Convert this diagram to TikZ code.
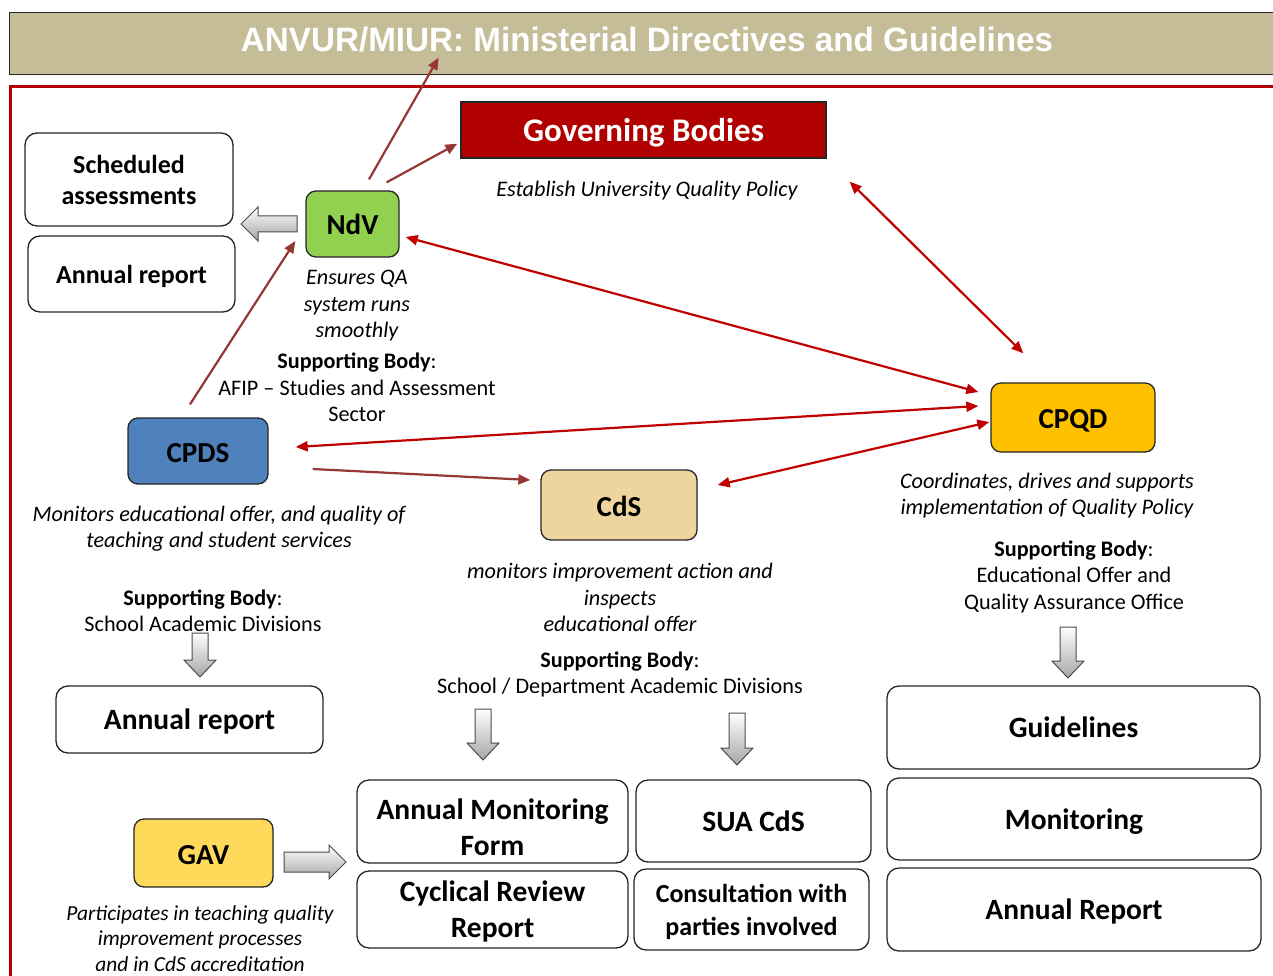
\documentclass[tikz,border=0pt]{standalone}
\usepackage{fontspec}
\setmainfont{Carlito}
\newfontfamily\titlefont{Liberation Sans}
\usetikzlibrary{arrows.meta,calc}
\definecolor{titlebg}{HTML}{C4BD97}
\definecolor{frame}{HTML}{B00000}
\definecolor{govred}{HTML}{B00000}
\definecolor{brownarr}{HTML}{953735}
\definecolor{redarr}{HTML}{C00000}
\definecolor{ndvgreen}{HTML}{92D050}
\definecolor{cpdsblue}{HTML}{4F81BD}
\definecolor{cdstan}{HTML}{EDD59D}
\definecolor{cpqdorange}{HTML}{FFC000}
\definecolor{gavyellow}{HTML}{FFD95A}
\newcommand{\DownArr}[3]{\draw[blockarrow] (#1-8,#2) -- (#1+8,#2) -- (#1+8,#3-17) -- (#1+16,#3-17) -- (#1,#3) -- (#1-16,#3-17) -- (#1-8,#3-17) -- cycle;}
\begin{document}
\begin{tikzpicture}[x=1pt,y=-1pt,
  outbox/.style={draw=black!85, line width=1.3pt, rounded corners=12pt, fill=white, align=center, inner sep=0pt,
    text depth=0pt, font=\bfseries\fontsize{26}{31}\selectfont},
  colbox/.style={draw=black!85, line width=1.3pt, rounded corners=10pt, align=center, inner sep=0pt,
    text height=22pt, text depth=0pt, font=\bfseries\fontsize{29}{32}\selectfont},
  lbl/.style={align=center, inner sep=0pt, font=\itshape\fontsize{22.2}{26.5}\selectfont},
  suplbl/.style={align=center, inner sep=0pt, font=\fontsize{22.2}{26.5}\selectfont},
  bigfont/.style={font=\bfseries\fontsize{29.5}{36}\selectfont},
  bigbox/.style={outbox, bigfont},
  brarrow/.style={draw=brownarr, line width=2.2pt, -{Triangle[length=12pt,width=10pt]}},
  redarrow/.style={draw=redarr, line width=2.2pt, {Triangle[length=12pt,width=10pt]}-{Triangle[length=12pt,width=10pt]}},
  blockarrow/.style={draw=black!70, line width=1pt, top color=white, bottom color=black!35}
]
\useasboundingbox (0,0) rectangle (1273,976);
\clip (0,0) rectangle (1273,976);
\fill[white] (0,0) rectangle (1273,976);

% title bar
\node[draw=black!85, line width=1.3pt, fill=titlebg, minimum width=1271pt, minimum height=62pt, inner sep=0pt, anchor=north west] (title) at (9,12) {};
\node[text=white, inner sep=0pt, font=\titlefont\bfseries\fontsize{33}{36}\selectfont] (titletext) at (647,40) {\resizebox{812pt}{24.5pt}{ANVUR/MIUR: Ministerial Directives and Guidelines}};

% red frame
\draw[frame, line width=3pt] (10,1000) -- (10,87) -- (1300,87);

% boxes
\node[outbox, minimum width=208pt, minimum height=93pt] (sched) at (129,179.5) {Scheduled\\assessments};
\node[outbox, minimum width=207pt, minimum height=76pt] (ar1) at (131.5,274) {Annual report};
\node[draw=black!85, line width=1.3pt, fill=govred, text=white, minimum width=365pt, minimum height=56pt, inner sep=0pt,
  text depth=0pt, font=\bfseries\fontsize{33}{36}\selectfont] (gov) at (643.5,130) {Governing Bodies};
\node[colbox, fill=ndvgreen, minimum width=93pt, minimum height=66pt] (ndv) at (352.5,224) {NdV};
\node[colbox, fill=cpdsblue, minimum width=140pt, minimum height=66pt] (cpds) at (198,451) {CPDS};
\node[colbox, fill=cdstan, minimum width=156pt, minimum height=70pt] (cds) at (619,505) {CdS};
\node[colbox, fill=cpqdorange, minimum width=164pt, minimum height=69pt] (cpqd) at (1073,417.5) {CPQD};
\node[colbox, fill=gavyellow, minimum width=139pt, minimum height=68pt] (gav) at (203.5,853) {GAV};

\node[bigbox, minimum width=267pt, minimum height=67pt] (ar2) at (189.5,719.5) {Annual report};
\node[bigbox, minimum width=271pt, minimum height=83pt,
  label={[bigfont, align=center, inner sep=0pt, yshift=-6pt]center:Annual Monitoring\\Form}] (amf) at (492.5,821.5) {};
\node[bigbox, minimum width=235pt, minimum height=82pt] (sua) at (753.5,821) {SUA CdS};
\node[bigbox, minimum width=271pt, minimum height=77pt] (crr) at (492.5,909.5) {Cyclical Review\\Report};
\node[outbox, minimum width=235pt, minimum height=81pt, font=\bfseries\fontsize{26}{33}\selectfont] (cons) at (751.5,909.5) {Consultation with\\parties involved};
\node[bigbox, minimum width=373pt, minimum height=83pt] (guide) at (1073.5,727.5) {Guidelines};
\node[bigbox, minimum width=374pt, minimum height=82pt] (moni) at (1074,819) {Monitoring};
\node[bigbox, minimum width=374pt, minimum height=83pt] (arep) at (1074,909.5) {Annual Report};

% labels
\node[lbl] (govlbl) at (647,191) {Establish University Quality Policy};
\node[lbl] (ndvlbl) at (357,306) {Ensures QA\\system runs\\smoothly};
\node[suplbl] (ndvsup) at (357,387.5) {\textbf{Supporting Body}:\\AFIP -- Studies and Assessment\\Sector};
\node[lbl] (cpdslbl) at (219,528.5) {Monitors educational offer, and quality of\\teaching and student services};
\node[suplbl] (cpdssup) at (203,611) {\textbf{Supporting Body}:\\School Academic Divisions};
\node[lbl] (cdslbl) at (620,597.5) {monitors improvement action and\\inspects\\educational offer};
\node[suplbl] (cdssup) at (620,674.5) {\textbf{Supporting Body}:\\School / Department Academic Divisions};
\node[lbl] (cpqdlbl) at (1047,495.5) {Coordinates, drives and supports\\implementation of Quality Policy};
\node[suplbl] (cpqdsup) at (1074,576.5) {\textbf{Supporting Body}:\\Educational Offer and\\Quality Assurance Office};
\node[lbl, font=\itshape\fontsize{21.4}{25.5}\selectfont] (gavlbl) at (200,938.5) {Participates in teaching quality\\improvement processes\\and in CdS accreditation};

% connectors
\draw[brarrow] ($(ndv.north)+(16.5,-11)$) -- ($(title.center)+(-206.5,14)$);
\draw[brarrow] ($(ndv.north east)+(-13,-8)$) -- ($(gov.south west)+(-3,-15)$);
\draw[brarrow] ($(cpds.north)+(-8,-13)$) -- ($(ndv.west)+(-10,17)$);
\draw[brarrow] ($(cpds.east)+(44,18)$) -- ($(cds.west)+(-10,-25)$);
\draw[redarrow] ($(ndv.east)+(6,13)$) -- ($(cpqd.west)+(-12,-25.5)$);
\draw[redarrow] ($(cpds.east)+(27,-4)$) -- ($(cpqd.west)+(-12,-11.5)$);
\draw[redarrow] ($(cds.east)+(20,-20)$) -- ($(cpqd.west)+(-1,4.5)$);
\draw[redarrow] ($(gov.south east)+(23,23)$) -- ($(cpqd.north west)+(33,-29)$);

% block arrows
\draw[blockarrow] (297,216) -- (258,216) -- (258,207) -- (241,224) -- (258,241) -- (258,232) -- (297,232) -- cycle;
\DownArr{200}{633}{677}
\DownArr{483}{709}{760}
\DownArr{737}{713}{765}
\DownArr{1068}{627}{678}
\draw[blockarrow] (284,852) -- (329,852) -- (329,845) -- (346,862) -- (329,879) -- (329,872) -- (284,872) -- cycle;
\end{tikzpicture}
\end{document}
